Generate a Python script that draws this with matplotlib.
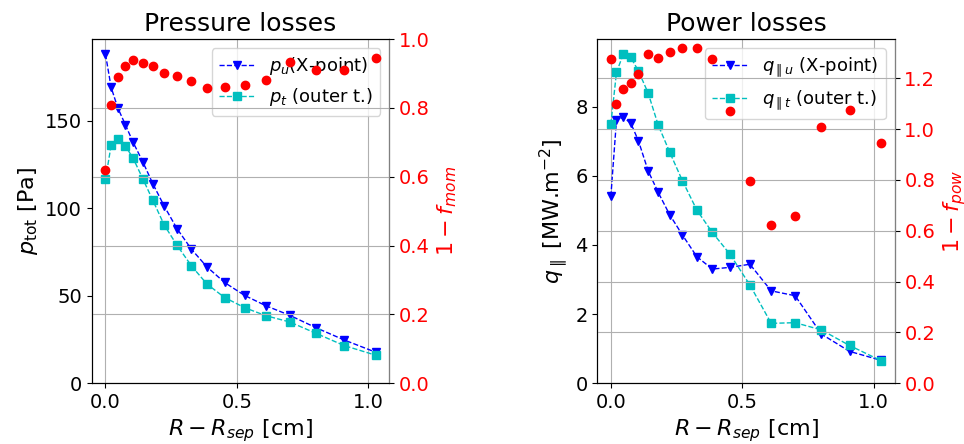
import matplotlib.pyplot as plt
import numpy as np

# distance from separatrix [cm], same for both panels
r_sep = [0.0, 0.0215, 0.047, 0.076, 0.105, 0.142, 0.180, 0.224, 0.272,
         0.327, 0.386, 0.453, 0.529, 0.610, 0.701, 0.801, 0.908, 1.028]

# pressure [Pa]
p_u = [188.2, 169.2, 157.4, 147.7, 137.8, 126.6, 114.1, 101.1, 88.4,
       76.6, 66.5, 57.6, 50.2, 44.3, 38.8, 31.7, 24.7, 17.7]
p_t = [116.5, 136.1, 139.7, 135.6, 128.7, 116.9, 104.6, 90.3, 78.9,
       67.1, 56.7, 49.0, 43.2, 38.6, 35.0, 28.5, 21.5, 16.0]
f_mom = [0.620, 0.809, 0.891, 0.922, 0.938, 0.930, 0.921, 0.901, 0.893,
         0.879, 0.858, 0.862, 0.866, 0.882, 0.932, 0.909, 0.911, 0.944]

# parallel heat flux [MW/m2]
q_u = [5.40, 7.61, 7.69, 7.52, 7.01, 6.14, 5.52, 4.87, 4.29,
       3.66, 3.30, 3.35, 3.44, 2.67, 2.53, 1.42, 0.92, 0.66]
q_t = [7.49, 8.99, 9.51, 9.42, 9.03, 8.39, 7.47, 6.68, 5.86,
       5.01, 4.36, 3.73, 2.84, 1.73, 1.75, 1.54, 1.09, 0.65]
f_pow = [1.276, 1.100, 1.159, 1.182, 1.216, 1.296, 1.280, 1.304, 1.319,
         1.317, 1.276, 1.070, 0.794, 0.621, 0.659, 1.007, 1.073, 0.945]

fig, axes = plt.subplots(1, 2, figsize=(9.64, 4.44), dpi=100)
plt.subplots_adjust(left=0.0954, right=0.928, bottom=0.137, top=0.912, wspace=0.70)

panels = [
    (axes[0], p_u, p_t, f_mom, "Pressure losses", r"$p_{\rm tot}$ [Pa]",
     r"$1-f_{mom}$", r"$p_u$(X-point)", r"$p_t$ (outer t.)", [0, 50, 100, 150],
     np.arange(0, 1.01, 0.2)),
    (axes[1], q_u, q_t, f_pow, "Power losses", r"$q_\parallel$ [MW.m$^{-2}$]",
     r"$1-f_{pow}$", r"$q_{\parallel u}$ (X-point)", r"$q_{\parallel t}$ (outer t.)",
     [0, 2, 4, 6, 8], np.arange(0, 1.21, 0.2)),
]

for ax, up, tg, frac, title, ylab, flab, lab_u, lab_t, yt, ft in panels:
    ax.plot(r_sep, up, 'bv--', lw=1, label=lab_u)
    ax.plot(r_sep, tg, 'cs--', lw=1, label=lab_t)
    ax.set_ylim(bottom=0)
    ax.set_yticks(yt)
    ax.set_xticks([0.0, 0.5, 1.0])
    ax.grid(axis='x')
    ax.set_title(title, fontsize=18)
    ax.set_xlabel(r"$R-R_{sep}$ [cm]", fontsize=16)
    ax.set_ylabel(ylab, fontsize=16)
    ax.tick_params(labelsize=14)
    ax.legend(loc='upper right', fontsize=13)

    ax2 = ax.twinx()
    ax2.plot(r_sep, frac, 'ro')
    ax2.set_ylim(bottom=0)
    ax2.set_yticks(ft)
    ax2.grid()
    ax2.set_ylabel(flab, color='r', fontsize=16)
    ax2.tick_params(axis='y', labelsize=14, labelcolor='r')
    ax2.spines['right'].set_color('gray')

plt.savefig("out.png")
